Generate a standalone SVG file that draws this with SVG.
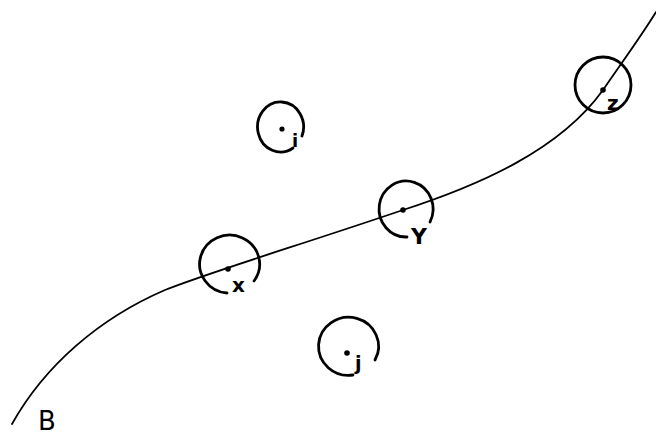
<svg xmlns="http://www.w3.org/2000/svg" width="656" height="439" viewBox="0 0 656 439">
<style>
.ring{fill:none;stroke:#000;stroke-width:2.8;stroke-linecap:round}
.curve{fill:none;stroke:#000;stroke-width:1.8;stroke-linecap:round}
.dot{fill:#000}
.lbl{font-family:"DejaVu Sans",sans-serif;fill:#000;font-weight:bold}
.big{font-family:"DejaVu Sans",sans-serif;fill:#000;font-weight:normal}
</style>
<rect width="656" height="439" fill="#fff"/>
<g id="connectors">
<path class="curve" d="M 12 424 C 45 365, 100 318, 165 290 C 210 272, 300 245, 403 210 C 480 185, 560 150, 603 90 C 620 65, 640 38, 656 12"/>
</g>
<g id="node-i">
<path class="ring" d="M 293 148 A 23 25 0 1 1 302 136"/>
<circle class="dot" cx="282" cy="129" r="2.6"/>
<text class="lbl" x="292" y="147" font-size="18">i</text>
</g>
<g id="node-x">
<path class="ring" d="M 227 293 A 30 29 0 1 1 254 281"/>
<circle class="dot" cx="228" cy="269" r="2.8"/>
<text class="lbl" x="232" y="292" font-size="20">x</text>
</g>
<g id="node-y">
<path class="ring" d="M 407 237 A 27 28 0 1 1 430 222"/>
<circle class="dot" cx="403" cy="210" r="2.8"/>
<text class="lbl" x="411" y="244" font-size="22">Y</text>
</g>
<g id="node-z">
<circle class="ring" cx="603" cy="85" r="28"/>
<circle class="dot" cx="603" cy="90" r="2.8"/>
<text class="lbl" x="607" y="110" font-size="20">z</text>
</g>
<g id="node-j">
<path class="ring" d="M 353 375 A 30 29 0 1 1 375 360"/>
<circle class="dot" cx="347" cy="353" r="2.8"/>
<text class="lbl" x="355" y="370" font-size="19">j</text>
</g>
<g id="label-B">
<text class="big" x="38" y="430" font-size="26">B</text>
</g>
</svg>
